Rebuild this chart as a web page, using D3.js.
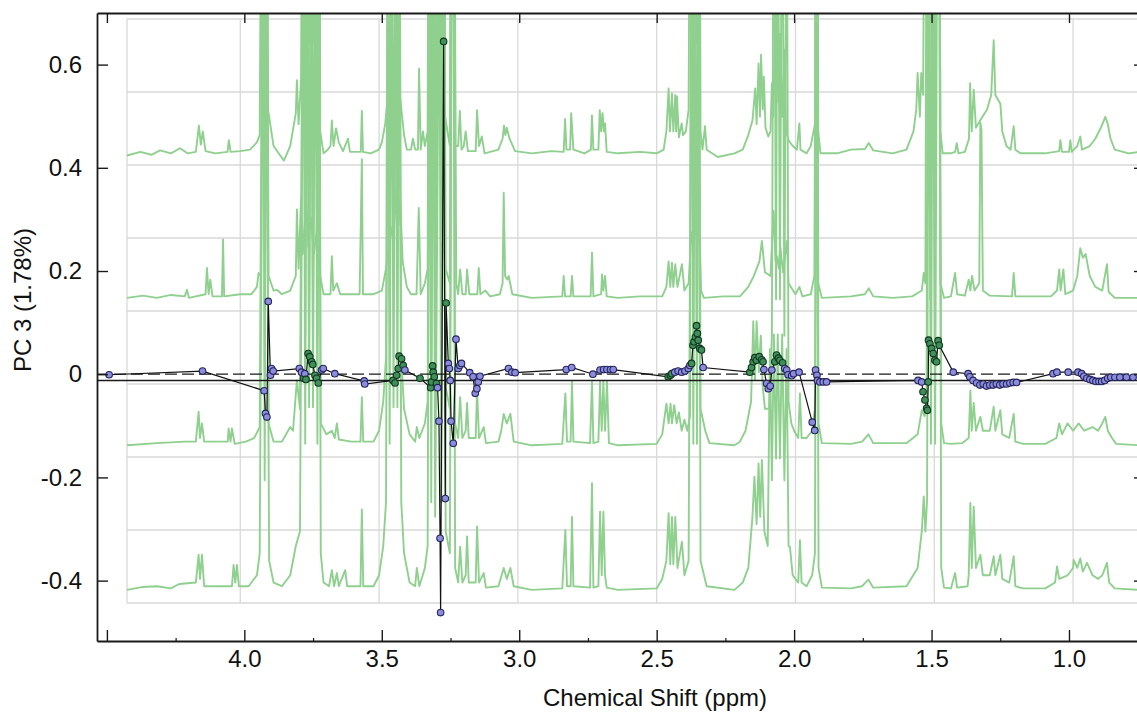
<!DOCTYPE html>
<html>
<head>
<meta charset="utf-8">
<script src="https://cdn.jsdelivr.net/npm/d3@7"></script>
<style>
  body { margin: 0; background: #fff; }
  svg { display: block; font-family: "Liberation Sans", Arial, sans-serif; }
</style>
</head>
<body>
<svg id="chart" width="1137" height="713"></svg>
<script>
// ---- Axis ticks ----
const xTickValues = [4.5, 4.0, 3.5, 3.0, 2.5, 2.0, 1.5, 1.0];
const xTickLabels = ["", "4.0", "3.5", "3.0", "2.5", "2.0", "1.5", "1.0"];
const xMinorTicks = [4.25, 3.75, 3.25, 2.75, 2.25, 1.75, 1.25, 0.75];
const yTickValues = [0.6, 0.4, 0.2, 0, -0.2, -0.4];
const yTickLabels = ["0.6", "0.4", "0.2", "0", "-0.2", "-0.4"];
const overlayGridPpm = [4.0, 3.5, 3.0, 2.5, 2.0, 1.5, 1.0];

// ---- PC3 loading profile: chemical shift (ppm), loading, group (1 = highlighted bin) ----
const loadingPpm = [4.492,4.152,3.928,3.923,3.918,3.913,3.905,3.901,3.895,3.800,3.792,3.785,3.780,3.776,3.768,3.762,3.755,3.751,3.743,3.737,3.731,3.719,3.713,3.671,3.564,3.562,3.459,3.452,3.446,3.440,3.437,3.428,3.422,3.416,3.361,3.322,3.319,3.315,3.313,3.309,3.301,3.297,3.292,3.288,3.286,3.275,3.269,3.266,3.258,3.254,3.251,3.248,3.240,3.230,3.222,3.216,3.210,3.180,3.168,3.160,3.154,3.149,3.143,3.039,3.027,3.015,2.829,2.809,2.732,2.706,2.693,2.681,2.668,2.658,2.458,2.450,2.445,2.434,2.422,2.409,2.397,2.385,2.379,2.373,2.368,2.364,2.359,2.355,2.352,2.349,2.343,2.337,2.331,2.161,2.155,2.149,2.143,2.137,2.127,2.118,2.113,2.110,2.100,2.094,2.087,2.081,2.070,2.064,2.057,2.052,2.042,2.034,2.027,2.022,2.009,2.002,1.982,1.934,1.925,1.922,1.917,1.915,1.906,1.894,1.882,1.549,1.536,1.531,1.524,1.518,1.515,1.512,1.511,1.506,1.500,1.494,1.488,1.482,1.476,1.472,1.421,1.367,1.361,1.349,1.336,1.324,1.312,1.300,1.288,1.276,1.264,1.252,1.240,1.227,1.215,1.203,1.191,1.058,1.044,1.003,0.967,0.954,0.946,0.935,0.924,0.913,0.902,0.891,0.881,0.870,0.859,0.848,0.833,0.815,0.791,0.767];
const loadingValue = [-0.001,0.006,-0.032,-0.076,-0.083,0.141,-0.002,0.011,0.006,0.011,0.004,-0.008,0.001,-0.010,0.040,0.034,0.024,0.019,-0.002,-0.008,-0.017,0.008,0.011,0.001,-0.013,-0.019,-0.012,-0.017,-0.002,0.011,0.035,0.030,0.017,0.008,-0.008,-0.026,-0.015,0.016,0.004,-0.005,-0.018,-0.026,-0.091,-0.318,-0.462,0.645,-0.241,0.138,0.021,0.011,-0.012,-0.091,-0.134,0.068,0.011,0.017,0.021,0.003,-0.005,-0.037,-0.028,-0.015,-0.004,0.011,0.004,0.003,0.009,0.013,0.000,0.008,0.009,0.009,0.009,0.009,-0.005,-0.002,0.001,0.004,0.006,0.004,0.006,0.011,0.017,0.021,0.056,0.063,0.072,0.094,0.079,0.066,0.050,0.047,0.013,0.004,0.013,0.024,0.032,0.027,0.034,0.028,0.024,0.009,-0.018,-0.028,-0.023,0.008,0.024,0.037,0.031,0.027,0.022,0.011,0.008,-0.001,-0.003,0.001,0.004,-0.093,-0.109,0.008,-0.002,-0.012,-0.015,-0.015,-0.015,-0.012,-0.015,-0.034,-0.050,-0.066,-0.070,-0.015,0.066,0.059,0.050,0.040,0.027,0.024,0.065,0.056,0.004,0.001,-0.005,-0.012,-0.017,-0.021,-0.019,-0.023,-0.021,-0.021,-0.019,-0.021,-0.019,-0.019,-0.017,-0.016,-0.016,0.001,0.004,0.004,0.004,0.001,-0.004,-0.008,-0.010,-0.012,-0.014,-0.014,-0.014,-0.012,-0.008,-0.006,-0.006,-0.006,-0.006,-0.006];
const loadingGroup = [0,0,0,0,0,0,0,0,0, 0,0,1,0,1,1,1,1,1,1,1,1, 0,0,0,0,0, 1,1,1,1,1,1,1,0, 1,1,1,1,1,1,1, 0,0,0,0, 1,0,1, 0,0,0,0,0,0,0,0,0,0,0,0,0,0,0,0,0,0,0,0,0,0,0,0,0,0, 1,1,1, 0,0,0,0,0,0, 1,1,1,1,1,1,1,1,1, 0, 1,1,1,1,1,1,1,1, 0,0,0,0,0, 1,1,1,1,1, 0,0,0,0,0,0,0,0,0,0,0,0,0,0, 0,0, 1,1,1,1,1,1,1,1,1,1,1,1,1, 0,0,0,0,0,0,0,0,0,0,0,0,0,0,0,0,0,0,0,0,0,0,0,0,0,0,0,0,0,0,0,0,0,0,0,0];
const referenceLevel = -0.012;

// ---- Stacked 1H NMR spectra: [ppm, intensity] (intensity in overlay grid units) ----
const spectrumOffsets = [6.16, 4.18, 2.16, 0.18];
const spectrum1 = [[4.408,-0.03],[4.36,0.02],[4.32,-0.02],[4.289,0.04],[4.25,0.0],[4.217,0.07],[4.19,0.0],[4.16,0.02],[4.149,0.38],[4.142,0.12],[4.135,0.3],[4.125,0.03],[4.09,0.0],[4.046,0.02],[4.041,0.18],[4.035,0.02],[4.0,0.03],[3.965,0.05],[3.94,0.15],[3.93,0.25],[3.917,9],[3.912,0.8],[3.907,9],[3.900,0.6],[3.88,0.1],[3.843,-0.1],[3.82,0.1],[3.80,0.55],[3.796,1.0],[3.79,0.4],[3.781,1.0],[3.772,9],[3.766,1.2],[3.760,9],[3.752,1.5],[3.745,9],[3.738,1.5],[3.730,9],[3.722,1.2],[3.716,9],[3.712,0.3],[3.70,0.0],[3.685,0.05],[3.675,0.1],[3.670,0.45],[3.664,0.1],[3.655,0.34],[3.645,0.15],[3.63,0.03],[3.612,0.2],[3.605,0.02],[3.566,0.02],[3.562,0.58],[3.558,0.02],[3.53,0.0],[3.50,0.05],[3.49,0.15],[3.478,0.4],[3.468,0.8],[3.462,9],[3.455,2.0],[3.448,9],[3.44,2.0],[3.434,9],[3.425,0.8],[3.41,0.25],[3.40,0.05],[3.385,0.05],[3.378,0.2],[3.37,0.05],[3.36,0.05],[3.356,1.16],[3.35,0.05],[3.342,0.3],[3.335,0.1],[3.325,0.3],[3.318,9],[3.312,0.8],[3.305,9],[3.298,0.5],[3.283,9],[3.278,1.0],[3.268,9],[3.262,0.5],[3.245,0.1],[3.238,9],[3.232,9],[3.226,0.1],[3.215,0.1],[3.209,0.58],[3.203,0.05],[3.195,0.1],[3.188,0.3],[3.18,0.03],[3.152,0.03],[3.147,0.59],[3.14,0.1],[3.13,0.23],[3.12,0.0],[3.07,0.05],[3.055,0.2],[3.05,0.38],[3.045,0.25],[3.04,0.35],[3.03,0.2],[3.01,0.03],[2.95,0.0],[2.88,0.03],[2.835,0.02],[2.830,0.47],[2.825,0.05],[2.812,0.05],[2.808,0.55],[2.80,0.05],[2.76,0.0],[2.737,0.05],[2.733,0.52],[2.728,0.05],[2.71,0.05],[2.705,0.59],[2.700,0.3],[2.695,0.55],[2.690,0.3],[2.686,0.41],[2.68,0.02],[2.64,0.0],[2.56,0.02],[2.50,0.0],[2.475,0.05],[2.465,0.3],[2.457,0.89],[2.452,0.3],[2.445,0.82],[2.44,0.3],[2.433,0.8],[2.430,0.3],[2.427,0.78],[2.42,0.22],[2.41,0.41],[2.405,0.25],[2.395,0.3],[2.385,0.6],[2.375,9],[2.368,1.5],[2.362,9],[2.355,1.5],[2.348,9],[2.342,0.3],[2.335,0.05],[2.326,0.37],[2.32,0.05],[2.28,-0.05],[2.22,0.0],[2.19,0.05],[2.17,0.25],[2.155,0.45],[2.145,0.89],[2.14,0.4],[2.133,1.23],[2.128,0.5],[2.124,1.35],[2.118,0.6],[2.114,1.05],[2.108,0.35],[2.098,0.23],[2.09,0.3],[2.085,0.96],[2.08,0.5],[2.073,1.89],[2.07,0.8],[2.067,1.71],[2.062,0.7],[2.055,1.64],[2.048,0.5],[2.039,1.42],[2.034,0.3],[2.025,0.18],[2.01,0.1],[1.995,0.05],[1.986,0.41],[1.982,0.05],[1.96,0.0],[1.945,0.1],[1.93,0.4],[1.923,9],[1.918,0.3],[1.91,0.0],[1.85,0.0],[1.80,0.05],[1.75,0.06],[1.736,0.14],[1.72,0.04],[1.65,0.0],[1.60,0.05],[1.575,0.3],[1.565,0.6],[1.56,1.1],[1.552,0.5],[1.547,1.1],[1.54,0.8],[1.530,9],[1.522,2],[1.515,9],[1.508,2],[1.50,9],[1.492,2],[1.485,9],[1.478,0.3],[1.47,0.0],[1.44,0.0],[1.425,0.02],[1.419,0.14],[1.413,0.0],[1.39,0.02],[1.375,0.2],[1.371,0.96],[1.365,0.3],[1.358,0.87],[1.35,0.35],[1.335,0.45],[1.31,0.6],[1.295,0.8],[1.286,1.55],[1.28,0.8],[1.262,0.68],[1.255,0.3],[1.24,0.1],[1.225,0.05],[1.214,0.37],[1.208,0.05],[1.19,0.0],[1.10,0.0],[1.05,0.03],[1.046,0.18],[1.04,0.02],[1.015,0.02],[1.010,0.18],[1.005,0.02],[0.985,0.1],[0.974,0.23],[0.968,0.05],[0.94,0.1],[0.92,0.2],[0.90,0.35],[0.884,0.5],[0.875,0.4],[0.865,0.2],[0.85,0.05],[0.80,0.0],[0.76,0.02]];
const spectrum2 = [[4.408,0.0],[4.35,0.03],[4.30,0.0],[4.25,0.04],[4.20,0.02],[4.192,0.11],[4.185,0.0],[4.125,0.05],[4.120,0.41],[4.114,0.05],[4.108,0.25],[4.10,0.02],[4.066,0.02],[4.062,0.8],[4.058,0.02],[4.0,0.05],[3.96,0.05],[3.94,0.15],[3.934,0.34],[3.925,0.3],[3.917,9],[3.912,1.0],[3.907,9],[3.898,0.3],[3.88,0.1],[3.868,0.11],[3.85,0.05],[3.82,0.1],[3.80,0.3],[3.796,1.21],[3.79,0.4],[3.781,1.35],[3.775,0.6],[3.768,1.0],[3.762,1.3],[3.755,0.7],[3.745,1.1],[3.735,0.6],[3.725,0.9],[3.718,1.44],[3.712,0.3],[3.70,0.05],[3.675,0.05],[3.670,0.57],[3.665,0.1],[3.652,0.2],[3.64,0.05],[3.57,0.05],[3.562,1.9],[3.558,0.05],[3.52,0.05],[3.49,0.1],[3.475,0.4],[3.465,0.7],[3.459,0.99],[3.45,0.8],[3.44,1.3],[3.436,1.81],[3.43,1.0],[3.424,1.35],[3.415,0.5],[3.40,0.15],[3.385,0.05],[3.365,0.05],[3.357,1.23],[3.35,0.05],[3.335,0.2],[3.325,0.4],[3.318,9],[3.31,1.0],[3.305,9],[3.296,0.6],[3.283,9],[3.276,1.0],[3.268,9],[3.26,0.4],[3.245,0.2],[3.238,9],[3.232,9],[3.222,0.2],[3.215,0.05],[3.208,0.39],[3.2,0.05],[3.188,0.05],[3.183,0.39],[3.175,0.05],[3.146,0.05],[3.141,0.41],[3.135,0.05],[3.117,0.1],[3.10,0.02],[3.065,0.05],[3.055,0.2],[3.051,1.44],[3.046,0.3],[3.038,0.25],[3.033,0.3],[3.02,0.05],[2.95,0.0],[2.84,0.02],[2.835,0.3],[2.83,0.02],[2.81,0.02],[2.805,0.3],[2.80,0.02],[2.738,0.02],[2.733,0.62],[2.728,0.02],[2.70,0.05],[2.697,0.32],[2.692,0.1],[2.686,0.3],[2.68,0.02],[2.64,0.0],[2.56,0.02],[2.48,0.02],[2.465,0.15],[2.457,0.5],[2.451,0.15],[2.445,0.48],[2.44,0.15],[2.433,0.46],[2.425,0.15],[2.409,0.46],[2.40,0.1],[2.385,0.2],[2.375,0.9],[2.368,0.7],[2.362,0.9],[2.355,1.9],[2.35,0.8],[2.345,0.8],[2.34,0.1],[2.33,0.0],[2.26,0.02],[2.20,0.02],[2.17,0.15],[2.15,0.3],[2.13,0.5],[2.121,0.78],[2.11,0.35],[2.09,0.3],[2.079,1.19],[2.072,0.5],[2.067,0.57],[2.06,0.4],[2.055,0.71],[2.045,0.35],[2.031,0.78],[2.025,0.2],[2.0,0.05],[1.986,0.15],[1.975,0.02],[1.945,0.05],[1.932,0.3],[1.923,9],[1.918,0.2],[1.905,0.0],[1.80,0.02],[1.75,0.05],[1.736,0.13],[1.72,0.02],[1.65,0.0],[1.58,0.02],[1.545,0.1],[1.538,0.34],[1.532,0.2],[1.526,9],[1.518,2],[1.51,9],[1.50,2],[1.493,9],[1.485,9],[1.478,0.2],[1.465,0.0],[1.44,0.02],[1.425,0.34],[1.418,0.05],[1.39,0.03],[1.376,0.25],[1.37,0.1],[1.364,0.3],[1.355,0.1],[1.338,0.2],[1.334,2.4],[1.33,2.3],[1.325,0.1],[1.30,0.03],[1.22,0.02],[1.214,0.34],[1.208,0.02],[1.08,0.02],[1.058,0.1],[1.05,0.39],[1.045,0.1],[1.035,0.39],[1.028,0.05],[1.0,0.1],[0.985,0.3],[0.974,0.68],[0.965,0.55],[0.955,0.6],[0.94,0.3],[0.92,0.15],[0.895,0.1],[0.878,0.46],[0.872,0.08],[0.85,0.0],[0.76,0.0]];
const spectrum3 = [[4.408,0.0],[4.30,0.03],[4.20,0.05],[4.16,0.05],[4.150,0.46],[4.145,0.1],[4.138,0.3],[4.13,0.05],[4.045,0.05],[4.042,0.23],[4.035,0.05],[4.03,0.23],[4.02,0.02],[3.98,0.05],[3.95,0.1],[3.93,0.25],[3.917,9],[3.912,1],[3.907,9],[3.898,0.3],[3.88,0.05],[3.85,0.05],[3.82,0.25],[3.81,0.2],[3.796,0.89],[3.785,0.5],[3.772,9],[3.766,1.5],[3.760,9],[3.752,2],[3.745,9],[3.738,2],[3.730,9],[3.722,1.5],[3.716,9],[3.71,0.3],[3.69,0.15],[3.670,0.2],[3.66,0.1],[3.652,0.3],[3.645,0.08],[3.60,0.05],[3.567,0.05],[3.562,0.66],[3.557,0.05],[3.52,0.05],[3.50,0.2],[3.485,0.6],[3.475,1.2],[3.468,9],[3.462,2],[3.455,9],[3.448,2.5],[3.44,9],[3.434,2.5],[3.427,9],[3.42,1.2],[3.41,0.5],[3.39,0.15],[3.37,0.05],[3.364,0.25],[3.355,0.1],[3.335,0.3],[3.325,0.6],[3.318,9],[3.312,1.2],[3.305,9],[3.298,1.0],[3.283,9],[3.276,1.2],[3.268,9],[3.26,0.8],[3.245,0.5],[3.238,9],[3.232,9],[3.226,0.3],[3.215,0.1],[3.208,0.66],[3.2,0.1],[3.188,0.2],[3.183,0.58],[3.177,0.1],[3.152,0.1],[3.147,0.75],[3.14,0.1],[3.123,0.25],[3.115,0.03],[3.07,0.05],[3.06,0.2],[3.051,0.43],[3.04,0.3],[3.027,0.43],[3.015,0.05],[2.95,0.0],[2.84,0.02],[2.829,0.71],[2.823,0.05],[2.81,0.05],[2.805,0.87],[2.80,0.05],[2.74,0.03],[2.733,0.87],[2.728,0.03],[2.71,0.05],[2.704,0.87],[2.698,0.2],[2.692,0.87],[2.686,0.2],[2.679,0.87],[2.672,0.03],[2.64,0.0],[2.5,0.02],[2.48,0.15],[2.465,0.57],[2.457,0.3],[2.45,0.57],[2.445,0.3],[2.437,0.55],[2.428,0.3],[2.42,0.45],[2.41,0.2],[2.40,0.35],[2.39,0.2],[2.38,0.4],[2.375,9],[2.368,1.5],[2.362,9],[2.355,1.5],[2.348,9],[2.342,0.5],[2.325,0.2],[2.31,0.03],[2.22,0.0],[2.20,0.05],[2.18,0.2],[2.16,0.6],[2.152,1.7],[2.146,0.9],[2.14,1.7],[2.132,1.0],[2.125,1.5],[2.118,0.8],[2.11,0.5],[2.095,0.5],[2.085,1.5],[2.078,9],[2.07,2],[2.064,9],[2.056,2],[2.048,9],[2.04,1.5],[2.032,9],[2.025,0.6],[2.015,0.3],[2.005,0.2],[1.99,0.1],[1.984,0.71],[1.978,0.1],[1.96,0.1],[1.94,0.2],[1.93,0.5],[1.923,9],[1.917,0.3],[1.905,0.03],[1.80,0.02],[1.76,0.05],[1.737,0.15],[1.72,0.03],[1.60,0.03],[1.56,0.15],[1.545,0.48],[1.535,0.4],[1.528,0.48],[1.522,9],[1.514,2],[1.506,9],[1.498,2],[1.49,9],[1.482,9],[1.475,0.3],[1.465,0.03],[1.44,0.02],[1.40,0.03],[1.376,0.1],[1.370,0.75],[1.365,0.2],[1.358,0.58],[1.35,0.2],[1.334,0.39],[1.325,0.2],[1.30,0.2],[1.286,0.53],[1.28,0.2],[1.262,0.48],[1.255,0.15],[1.23,0.1],[1.214,0.43],[1.208,0.05],[1.18,0.02],[1.10,0.02],[1.06,0.1],[1.05,0.3],[1.04,0.15],[1.02,0.3],[1.0,0.2],[0.98,0.3],[0.96,0.2],[0.93,0.25],[0.91,0.2],[0.895,0.3],[0.884,0.39],[0.875,0.2],[0.86,0.1],[0.845,0.02],[0.76,0.0]];
const spectrum4 = [[4.408,0.0],[4.35,0.04],[4.30,0.05],[4.25,0.02],[4.22,0.08],[4.16,0.1],[4.150,0.48],[4.145,0.15],[4.138,0.48],[4.13,0.05],[4.03,0.05],[4.024,0.34],[4.018,0.1],[4.012,0.34],[4.005,0.05],[3.97,0.05],[3.94,0.2],[3.93,0.5],[3.917,9],[3.912,1.5],[3.907,9],[3.896,0.4],[3.88,0.1],[3.85,0.05],[3.82,0.2],[3.80,0.6],[3.785,0.8],[3.772,9],[3.766,2],[3.760,9],[3.752,2.5],[3.745,9],[3.738,2.5],[3.730,9],[3.722,2],[3.716,9],[3.71,0.5],[3.70,0.1],[3.68,0.05],[3.670,0.27],[3.662,0.05],[3.652,0.23],[3.645,0.05],[3.622,0.27],[3.615,0.05],[3.567,0.05],[3.562,1.1],[3.557,0.05],[3.52,0.05],[3.50,0.2],[3.485,0.6],[3.475,1.2],[3.468,9],[3.462,2],[3.455,9],[3.448,2.5],[3.44,9],[3.434,2.5],[3.427,9],[3.42,1.2],[3.41,0.5],[3.39,0.1],[3.37,0.05],[3.364,0.3],[3.355,0.05],[3.335,0.3],[3.325,0.6],[3.318,9],[3.312,1.2],[3.305,9],[3.298,1.0],[3.283,9],[3.276,1.2],[3.268,9],[3.26,0.8],[3.245,0.5],[3.238,9],[3.232,9],[3.226,0.3],[3.215,0.1],[3.208,0.59],[3.2,0.1],[3.188,0.2],[3.183,0.73],[3.177,0.1],[3.152,0.1],[3.147,0.87],[3.14,0.1],[3.123,0.23],[3.115,0.03],[3.07,0.05],[3.051,0.3],[3.04,0.15],[3.027,0.3],[3.015,0.05],[2.95,0.0],[2.84,0.02],[2.829,0.82],[2.823,0.05],[2.81,0.05],[2.805,1.0],[2.80,0.05],[2.74,0.03],[2.733,1.46],[2.728,0.03],[2.71,0.05],[2.704,1.07],[2.698,0.2],[2.692,1.07],[2.686,0.2],[2.68,0.03],[2.64,0.0],[2.5,0.02],[2.48,0.15],[2.465,0.4],[2.457,1.05],[2.451,0.35],[2.445,1.0],[2.44,0.35],[2.433,1.0],[2.425,0.3],[2.409,0.66],[2.40,0.2],[2.385,0.4],[2.375,9],[2.368,2],[2.362,9],[2.355,2],[2.348,9],[2.342,0.4],[2.32,0.05],[2.22,0.0],[2.19,0.1],[2.17,0.3],[2.155,1.0],[2.148,1.55],[2.14,0.9],[2.133,1.73],[2.127,1.0],[2.121,1.78],[2.112,0.8],[2.10,0.6],[2.092,3.3],[2.085,1.5],[2.078,3.5],[2.07,1.8],[2.064,3.5],[2.056,1.8],[2.048,3.5],[2.04,1.5],[2.032,3.3],[2.025,0.6],[2.02,0.59],[2.01,0.2],[1.99,0.1],[1.984,0.68],[1.978,0.1],[1.96,0.05],[1.94,0.2],[1.93,0.5],[1.923,9],[1.917,0.3],[1.905,0.03],[1.80,0.02],[1.76,0.05],[1.737,0.14],[1.72,0.03],[1.60,0.05],[1.56,0.3],[1.545,0.8],[1.538,1.28],[1.532,0.8],[1.526,1.23],[1.52,9],[1.512,2],[1.505,9],[1.497,2],[1.49,9],[1.482,9],[1.475,0.3],[1.465,0.03],[1.44,0.02],[1.425,0.23],[1.418,0.03],[1.38,0.05],[1.376,0.2],[1.370,1.19],[1.365,0.3],[1.358,1.14],[1.35,0.3],[1.334,0.48],[1.325,0.2],[1.30,0.2],[1.286,0.46],[1.28,0.2],[1.262,0.48],[1.255,0.15],[1.23,0.1],[1.214,0.46],[1.208,0.05],[1.18,0.02],[1.10,0.02],[1.065,0.1],[1.058,0.32],[1.05,0.15],[1.02,0.2],[1.0,0.3],[0.998,0.41],[0.985,0.3],[0.974,0.43],[0.965,0.25],[0.95,0.37],[0.93,0.2],[0.91,0.15],[0.895,0.2],[0.878,0.37],[0.87,0.1],[0.85,0.02],[0.76,0.0]];
const spectra = [spectrum1, spectrum2, spectrum3, spectrum4];

(function draw() {
  const svg = d3.select("#chart");
  const frame = { left: 97, right: 1145, top: 13, bottom: 641 };
  const x = d3.scaleLinear().domain([4.536, 0.7235]).range([frame.left, frame.right]);
  const y = d3.scaleLinear().domain([0.70, -0.517]).range([frame.top, frame.bottom]);
  // overlay frame holding the stacked spectra
  const overlay = { left: 127, right: 1145, top: 19, bottom: 603 };
  const xs = d3.scaleLinear().domain([4.408, 0.741]).range([overlay.left, overlay.right]);
  const ys = d3.scaleLinear().domain([0, 8]).range([overlay.bottom, overlay.top]);

  svg.append("defs").append("clipPath").attr("id", "plotClip")
    .append("rect").attr("x", frame.left).attr("y", frame.top)
    .attr("width", frame.right - frame.left).attr("height", frame.bottom - frame.top);

  // overlay grid
  const grid = svg.append("g").attr("clip-path", "url(#plotClip)")
    .attr("stroke", "#d9d9d9").attr("stroke-width", 1.3);
  grid.selectAll("line.h").data(d3.range(0, 9)).join("line").attr("class", "h")
    .attr("x1", overlay.left).attr("x2", overlay.right)
    .attr("y1", d => ys(d)).attr("y2", d => ys(d));
  grid.selectAll("line.v").data(overlayGridPpm).join("line").attr("class", "v")
    .attr("x1", d => xs(d)).attr("x2", d => xs(d))
    .attr("y1", overlay.top).attr("y2", overlay.bottom);
  grid.append("line").attr("x1", overlay.left).attr("x2", overlay.left)
    .attr("y1", overlay.top).attr("y2", overlay.bottom);

  // spectra
  const specG = svg.append("g").attr("clip-path", "url(#plotClip)");
  spectra.forEach((s, i) => {
    const pts = s.slice().sort((a, b) => b[0] - a[0]);
    const line = d3.line().x(d => xs(d[0])).y(d => ys(spectrumOffsets[i] + d[1]));
    specG.append("path").datum(pts)
      .attr("d", line).attr("fill", "none")
      .attr("stroke", "#8fd08f").attr("stroke-width", 1.9)
      .attr("stroke-linejoin", "round");
  });

  // reference lines
  const refG = svg.append("g").attr("clip-path", "url(#plotClip)");
  refG.append("line")
    .attr("x1", frame.left).attr("x2", frame.right)
    .attr("y1", y(0)).attr("y2", y(0))
    .attr("stroke", "#1a1a1a").attr("stroke-width", 1.3).attr("stroke-dasharray", "12,5");
  refG.append("line")
    .attr("x1", frame.left).attr("x2", frame.right)
    .attr("y1", y(referenceLevel)).attr("y2", y(referenceLevel))
    .attr("stroke", "#1a1a1a").attr("stroke-width", 1.5);

  // loading profile
  const loadings = loadingPpm.map((p, i) => ({ ppm: p, v: loadingValue[i], g: loadingGroup[i] }));
  const lg = svg.append("g").attr("clip-path", "url(#plotClip)");
  lg.append("path").datum(loadings)
    .attr("d", d3.line().x(d => x(d.ppm)).y(d => y(d.v)))
    .attr("fill", "none").attr("stroke", "#111").attr("stroke-width", 1.2);
  const fillColor = d3.scaleOrdinal().domain([0, 1]).range(["#8c8cdc", "#3f8f5a"]);
  const strokeColor = d3.scaleOrdinal().domain([0, 1]).range(["#26265e", "#12381f"]);
  lg.selectAll("circle").data(loadings).join("circle")
    .attr("cx", d => x(d.ppm)).attr("cy", d => y(d.v)).attr("r", 3.3)
    .attr("fill", d => fillColor(d.g)).attr("stroke", d => strokeColor(d.g))
    .attr("stroke-width", 1.1);

  // axes
  const axisColor = "#1a1a1a";
  function styleAxis(g) {
    g.select(".domain").attr("stroke", axisColor).attr("stroke-width", 1.8);
    g.selectAll(".tick line").attr("stroke", axisColor).attr("stroke-width", 1.4);
    g.selectAll(".tick text").attr("fill", "#111").style("font-size", "24px")
      .style("font-family", "'Liberation Sans', Arial, sans-serif");
  }
  const bottomAxis = svg.append("g").attr("transform", `translate(0,${frame.bottom})`)
    .call(d3.axisBottom(x).tickValues(xTickValues)
      .tickFormat((d, i) => xTickLabels[i]).tickSizeInner(-11).tickSizeOuter(0).tickPadding(9));
  styleAxis(bottomAxis);
  const bottomMinor = svg.append("g").attr("transform", `translate(0,${frame.bottom})`)
    .call(d3.axisBottom(x).tickValues(xMinorTicks).tickFormat("").tickSizeInner(-3).tickSizeOuter(0));
  bottomMinor.select(".domain").remove();
  bottomMinor.selectAll(".tick line").attr("stroke", axisColor).attr("stroke-width", 1.2);

  const topAxis = svg.append("g").attr("transform", `translate(0,${frame.top})`)
    .call(d3.axisTop(x).tickValues(xTickValues).tickFormat("").tickSizeInner(-10).tickSizeOuter(0));
  styleAxis(topAxis);

  const leftAxis = svg.append("g").attr("transform", `translate(${frame.left},0)`)
    .call(d3.axisLeft(y).tickValues(yTickValues)
      .tickFormat((d, i) => yTickLabels[i]).tickSizeInner(-11).tickSizeOuter(0).tickPadding(15));
  styleAxis(leftAxis);

  const rightAxis = svg.append("g").attr("transform", `translate(${frame.right},0)`)
    .call(d3.axisRight(y).tickValues(yTickValues).tickFormat("").tickSizeInner(-11).tickSizeOuter(0));
  styleAxis(rightAxis);

  // titles
  svg.append("text")
    .attr("x", 655).attr("y", 706)
    .attr("text-anchor", "middle")
    .style("font-size", "24px").attr("fill", "#111")
    .text("Chemical Shift (ppm)");
  svg.append("text")
    .attr("transform", "translate(31,300) rotate(-90)")
    .attr("text-anchor", "middle")
    .style("font-size", "24px").attr("fill", "#111")
    .text("PC 3 (1.78%)");
})();
</script>
</body>
</html>
